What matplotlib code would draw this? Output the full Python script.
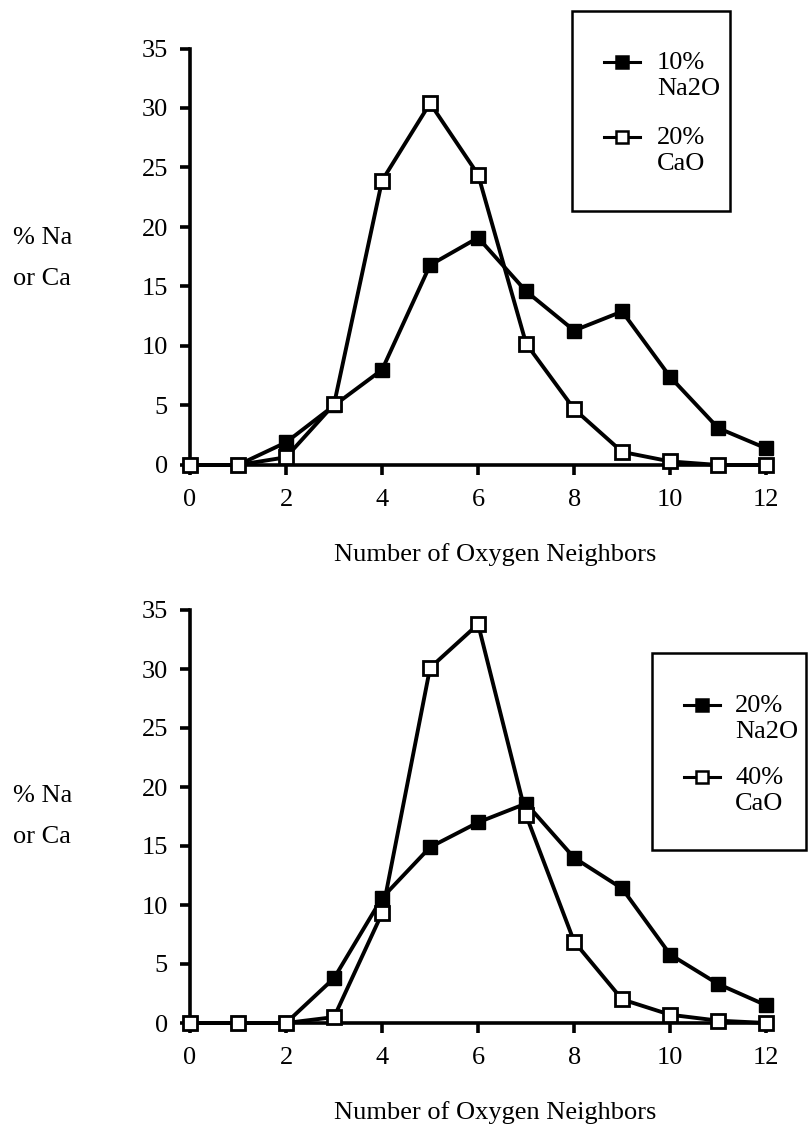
import matplotlib
matplotlib.use('Agg')
import matplotlib.pyplot as plt
from matplotlib.lines import Line2D
from matplotlib.patches import Rectangle

plt.rcParams['font.family'] = ['Liberation Serif', 'DejaVu Serif']

# ─── data ────────────────────────────────────────────────────────────────────
neighbors = [0, 1, 2, 3, 4, 5, 6, 7, 8, 9, 10, 11, 12]

na2o_10 = [0, 0, 1.9, 5.0, 8.0, 16.8, 19.1, 14.6, 11.3, 12.9, 7.4, 3.1, 1.4]
cao_20 = [0, 0, 0.65, 5.1, 23.9, 30.4, 24.4, 10.2, 4.7, 1.1, 0.3, 0, 0]

na2o_20 = [0, 0, 0, 3.8, 10.6, 14.9, 17.0, 18.6, 14.0, 11.4, 5.8, 3.3, 1.5]
cao_40 = [0, 0, 0, 0.5, 9.3, 30.1, 33.8, 17.6, 6.9, 2.0, 0.7, 0.2, 0]

x_ticks = [0, 2, 4, 6, 8, 10, 12]
y_ticks = [0, 5, 10, 15, 20, 25, 30, 35]

panels = [
    {"filled": na2o_10, "open": cao_20, "labels": ("10%\nNa2O", "20%\nCaO")},
    {"filled": na2o_20, "open": cao_40, "labels": ("20%\nNa2O", "40%\nCaO")},
]

W, H = 809, 1124
FS = 19
LW = 2.8
MS = 9.5


def fx(px):
    return px / W


def fy(py):
    return 1 - py / H


fig = plt.figure(figsize=(W / 100, H / 100), dpi=100)

# axes placement in pixels: left, zero line, top (35) line
axes_px = [(190, 465, 48.5), (190, 1023, 610)]
right_px = 771

for (left, y0, y35), panel in zip(axes_px, panels):
    ax = fig.add_axes([fx(left), fy(y0), (right_px - left) / W, (y0 - y35) / H])
    ax.plot(neighbors, panel["filled"], color="black", linewidth=LW,
            marker="s", markersize=MS, markerfacecolor="black",
            markeredgecolor="black", clip_on=False, zorder=3)
    ax.plot(neighbors, panel["open"], color="black", linewidth=LW,
            marker="s", markersize=MS, markerfacecolor="white",
            markeredgecolor="black", markeredgewidth=2.0, clip_on=False, zorder=4)

    ax.set_xlim(0, 12.1)
    ax.set_ylim(0, 35)
    ax.set_xticks(x_ticks)
    ax.set_yticks(y_ticks)
    ax.tick_params(axis="both", direction="out", length=7, width=2.6, labelsize=FS)
    ax.tick_params(axis="x", pad=10)
    ax.tick_params(axis="y", pad=9)
    for side in ("top", "right"):
        ax.spines[side].set_visible(False)
    for side in ("left", "bottom"):
        ax.spines[side].set_linewidth(2.6)

# axis labels, placed as in the original page
for dy in (0, 558):
    fig.text(fx(13), fy(238 + dy), "% Na", fontsize=FS, va="center", ha="left")
    fig.text(fx(13), fy(279 + dy), "or Ca", fontsize=FS, va="center", ha="left")
    fig.text(fx(495), fy(555 + dy), "Number of Oxygen Neighbors",
             fontsize=FS, va="center", ha="center")

# hand-built legends: box, handle, two-line label
legends = [
    {"box": (572, 11, 730, 211), "mx": 622, "tx": 657, "rows": (62, 137)},
    {"box": (652, 653, 806, 850), "mx": 702, "tx": 735, "rows": (705, 777)},
]
for leg, panel in zip(legends, panels):
    x0, y0, x1, y1 = leg["box"]
    fig.patches.append(Rectangle((fx(x0), fy(y1)), (x1 - x0) / W, (y1 - y0) / H,
                                 transform=fig.transFigure, fill=False,
                                 edgecolor="black", linewidth=1.8))
    for row, face, label in zip(leg["rows"], ("black", "white"), panel["labels"]):
        fig.lines.append(Line2D([fx(leg["mx"] - 18), fx(leg["mx"] + 18)], [fy(row), fy(row)],
                                transform=fig.transFigure, color="black", linewidth=2.2,
                                zorder=3))
        fig.lines.append(Line2D([fx(leg["mx"])], [fy(row)], transform=fig.transFigure,
                                linestyle="none", marker="s", markersize=MS - 1,
                                markerfacecolor=face, markeredgecolor="black",
                                markeredgewidth=1.8, zorder=4))
        fig.text(fx(leg["tx"]), fy(row + 14), label, fontsize=FS, va="center",
                 ha="left", linespacing=1.2)

plt.savefig("out.png", dpi=100)
plt.close()
